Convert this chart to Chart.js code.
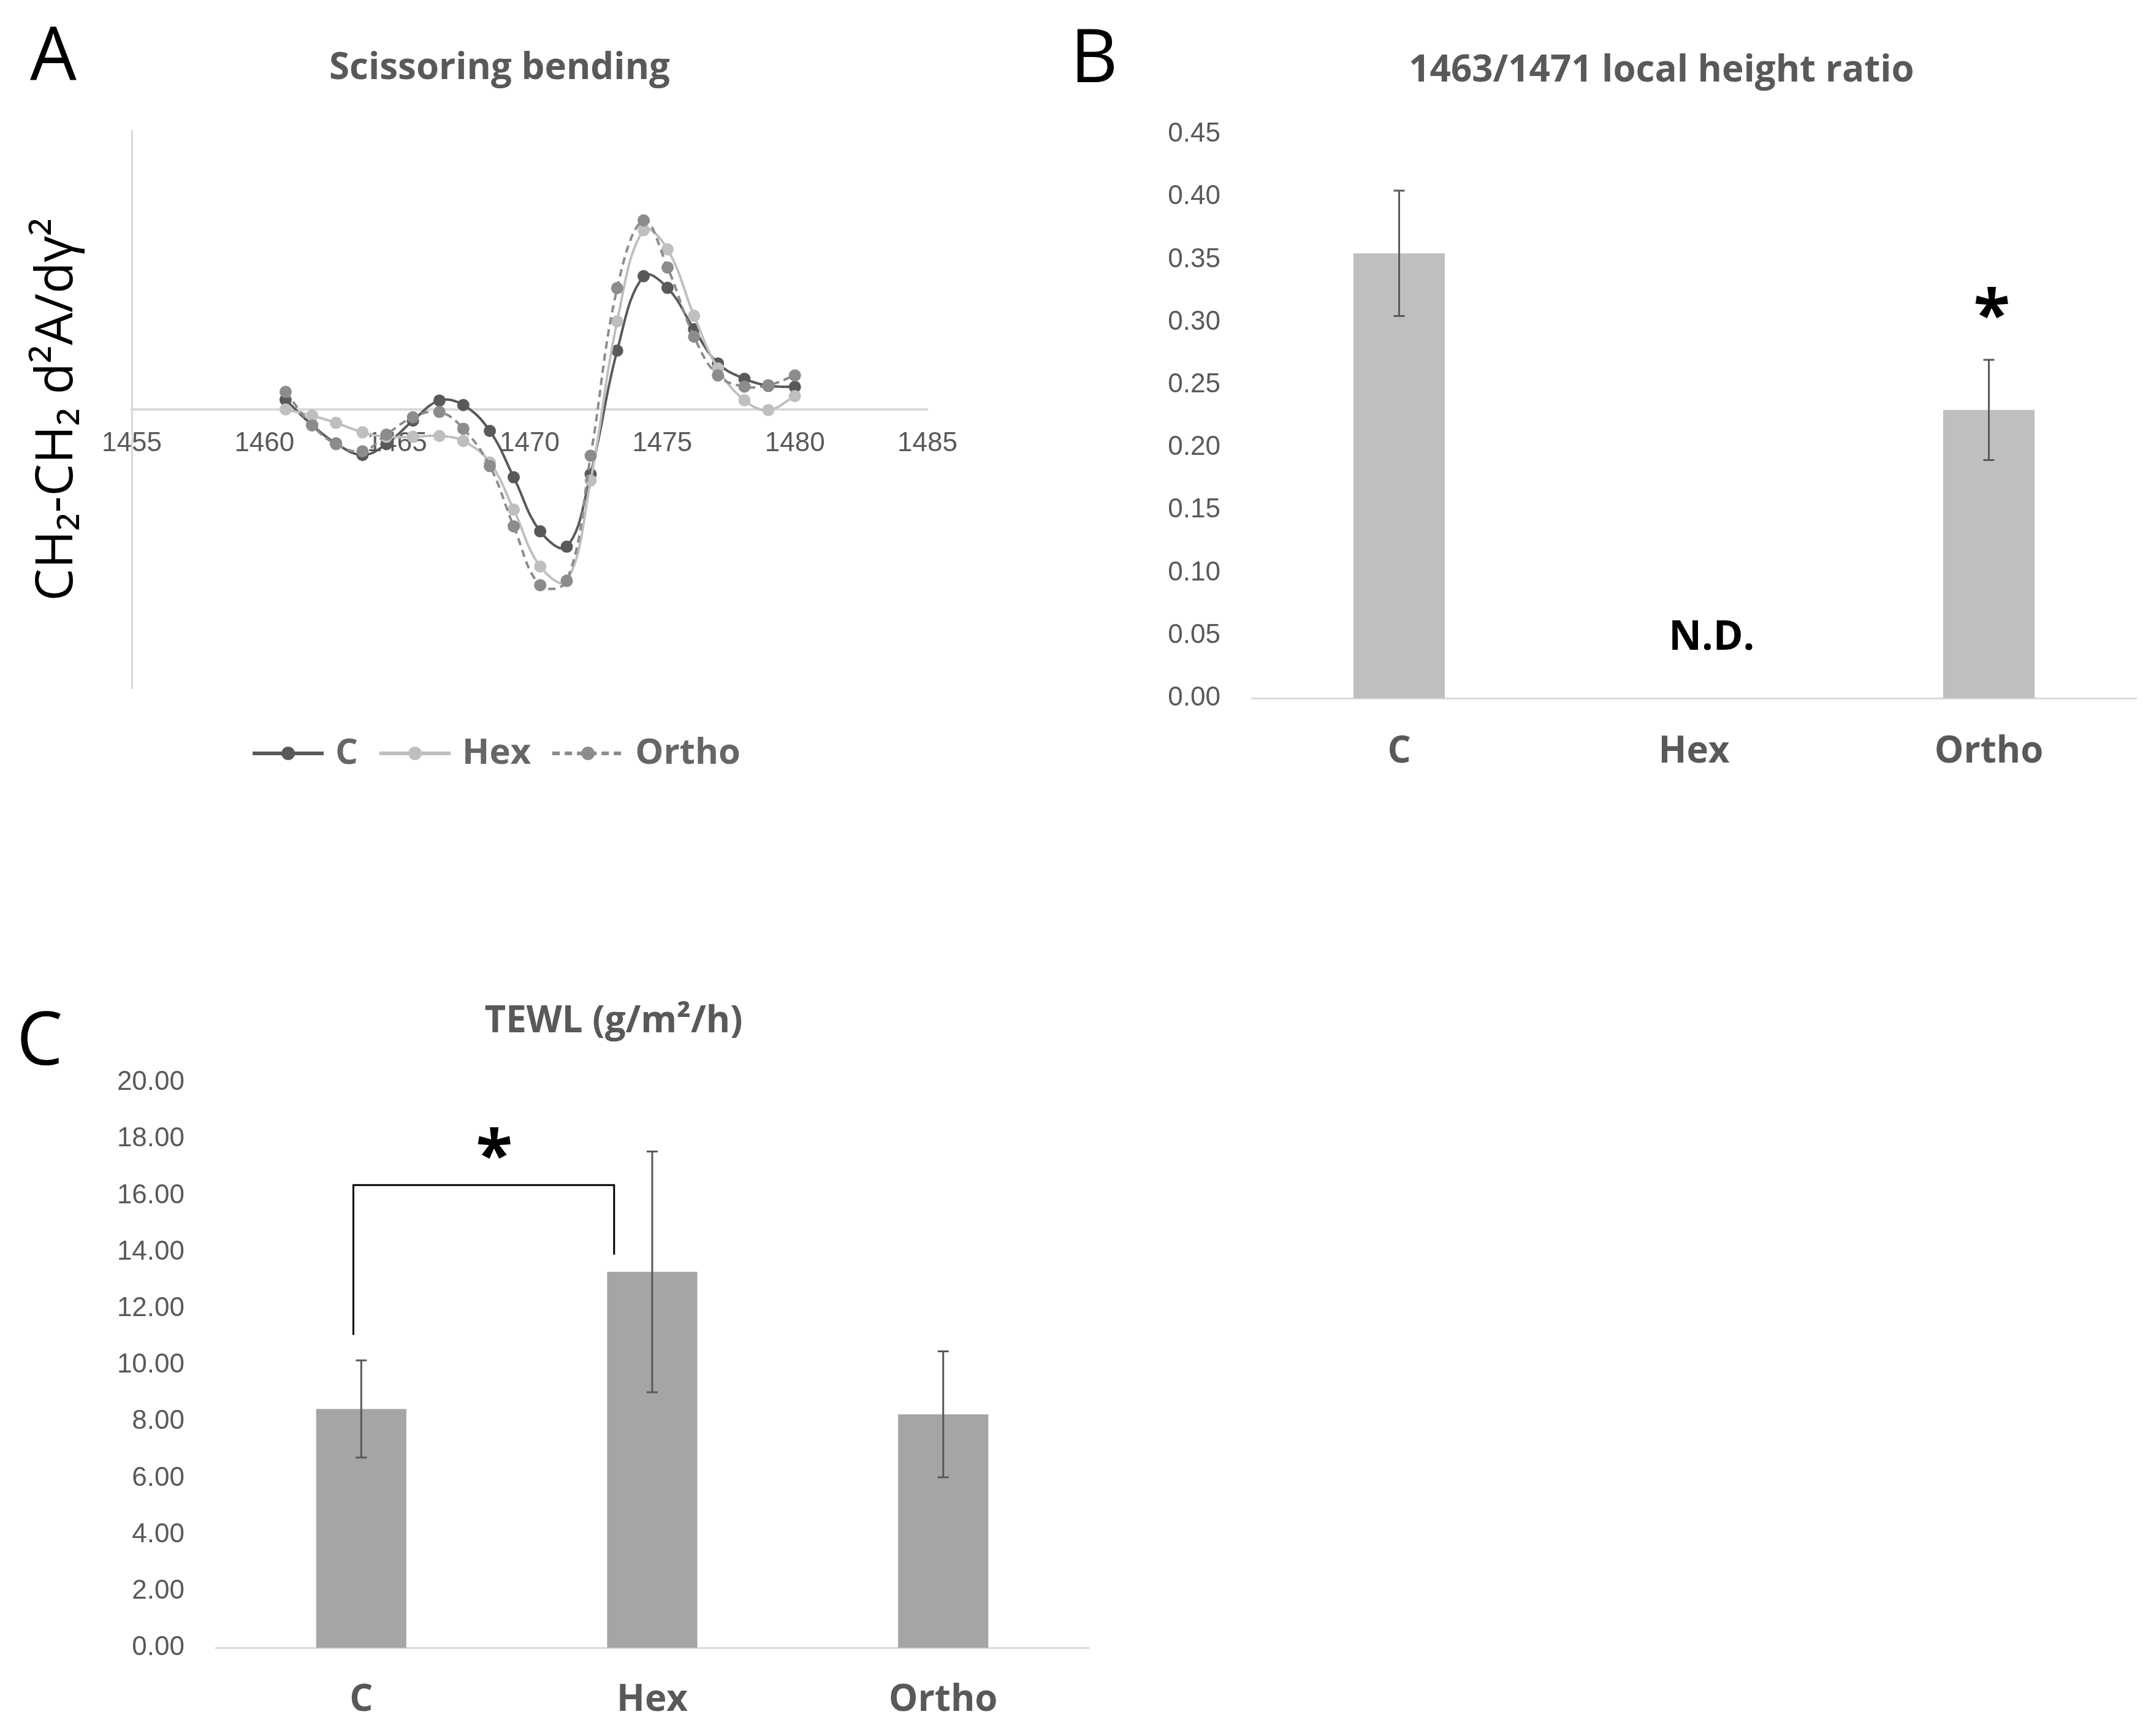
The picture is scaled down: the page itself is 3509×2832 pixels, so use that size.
<!DOCTYPE html>
<html>
<head>
<meta charset="utf-8">
<title>Scissoring bending / local height ratio / TEWL</title>
<script src="https://cdn.jsdelivr.net/npm/chart.js@4.4.1/dist/chart.umd.min.js"></script>
<style>
  html, body { margin: 0; padding: 0; background: #fff; }
  body { width: 3509px; height: 2832px; position: relative; overflow: hidden; font-family: 'Open Sans', sans-serif; }
  canvas { position: absolute; }
  .letter { position: absolute; font-size: 120px; line-height: 1; color: #000; }
</style>
</head>
<body>
<div class="letter" style="left:49px;top:24px">A</div>
<div class="letter" style="left:1746px;top:28px">B</div>
<div class="letter" style="left:27px;top:1631px">C</div>

<canvas id="chartA" width="1700" height="1400" style="left:0;top:0"></canvas>
<canvas id="chartB" width="1809" height="1400" style="left:1700px;top:0"></canvas>
<canvas id="chartC" width="1850" height="1332" style="left:0;top:1500px"></canvas>

<script>
'use strict';

// ---- panel A : second derivative spectra (relative units, axis -100..100)
const wavenumbers = [1460.8, 1461.8, 1462.7, 1463.7, 1464.6, 1465.6, 1466.6, 1467.5, 1468.5, 1469.4,
  1470.4, 1471.4, 1472.3, 1473.3, 1474.3, 1475.2, 1476.2, 1477.1, 1478.1, 1479.0, 1480.0];
const seriesC = [3.5, -5.6, -12.2, -16.3, -12.4, -4.0, 3.2, 1.6, -7.7, -24.3,
  -43.7, -49.2, -23.2, 21.1, 47.8, 43.6, 28.8, 16.5, 11.0, 8.5, 8.1];
const seriesHex = [0, -2.2, -4.8, -8.2, -9.8, -9.8, -9.5, -11.3, -19.0, -35.9,
  -56.3, -61.6, -25.5, 31.6, 64.3, 57.4, 33.6, 14.7, 3.3, -0.2, 4.8];
const seriesOrtho = [6.3, -5.7, -12.4, -15.0, -9.0, -2.8, -0.9, -6.9, -20.3, -41.9,
  -63.0, -61.4, -16.6, 43.5, 67.8, 50.9, 26.1, 12.2, 8.2, 8.7, 12.2];

// ---- panel B : 1463/1471 local height ratio
const groups = ['C', 'Hex', 'Ortho'];
const ratioMean = [0.355, null, 0.23];
const ratioErr = [0.05, null, 0.04];
const ratioMarks = [
  { text: 'N.D.', at: 1.06, value: 0.048, size: 66 },
  { text: '*', at: 2.01, value: 0.303, size: 110 }
];

// ---- panel C : TEWL
const tewlMean = [8.45, 13.3, 8.26];
const tewlErr = [1.72, 4.26, 2.23];
const tewlBracketX = [-0.027, 0.869];
const tewlBracketY = [11.07, 16.37, 13.91];
const tewlMarks = [{ text: '*', at: 0.457, value: 17.3, size: 110 }];

const GREY_TEXT = '#595959';
const AXIS_LINE = '#d9d9d9';
const TICK_FONT = "'Liberation Sans Narrow', 'Liberation Sans', sans-serif";
const MAIN_FONT = "'Open Sans', sans-serif";

Chart.defaults.font.family = MAIN_FONT;

function toXY(values) {
  return values.map((v, i) => ({ x: wavenumbers[i], y: v }));
}

/**
 * Small legend symbol: a line with a dot in the middle (Excel style).
 */
function legendSymbol(color, dash) {
  const c = document.createElement('canvas');
  c.width = 116;
  c.height = 24;
  const g = c.getContext('2d');
  g.strokeStyle = color;
  g.lineWidth = 6;
  g.setLineDash(dash);
  g.beginPath();
  g.moveTo(0, 12);
  g.lineTo(116, 12);
  g.stroke();
  g.fillStyle = color;
  g.beginPath();
  g.arc(58, 12, 11, 0, Math.PI * 2);
  g.fill();
  return c;
}

function errorBarPlugin(errors) {
  return {
    id: 'errorBars',
    afterDatasetsDraw(chart) {
      const ctx = chart.ctx;
      const y = chart.scales.y;
      const meta = chart.getDatasetMeta(0);
      const values = chart.data.datasets[0].data;
      ctx.save();
      ctx.strokeStyle = GREY_TEXT;
      ctx.lineWidth = 3;
      errors.forEach((e, i) => {
        if (e == null || values[i] == null) return;
        const x = meta.data[i].x;
        const top = y.getPixelForValue(values[i] + e);
        const bot = y.getPixelForValue(values[i] - e);
        ctx.beginPath();
        ctx.moveTo(x, top); ctx.lineTo(x, bot);
        ctx.moveTo(x - 9, top); ctx.lineTo(x + 9, top);
        ctx.moveTo(x - 9, bot); ctx.lineTo(x + 9, bot);
        ctx.stroke();
      });
      ctx.restore();
    }
  };
}

function marksPlugin(marks) {
  return {
    id: 'marks',
    afterDatasetsDraw(chart) {
      const ctx = chart.ctx;
      ctx.save();
      ctx.fillStyle = '#000';
      ctx.textAlign = 'center';
      ctx.textBaseline = 'middle';
      marks.forEach(m => {
        ctx.font = 'bold ' + m.size + 'px ' + MAIN_FONT;
        ctx.fillText(m.text, chart.scales.x.getPixelForValue(m.at), chart.scales.y.getPixelForValue(m.value));
      });
      ctx.restore();
    }
  };
}

// nudges the chart title sideways so it sits where the original one does
function titleShift(dx) {
  return {
    id: 'titleShift',
    afterLayout(chart) {
      if (!chart.titleBlock) return;
      chart.titleBlock.left += dx;
      chart.titleBlock.right += dx;
    }
  };
}

const bracketPlugin = {
  id: 'bracket',
  afterDatasetsDraw(chart) {
    const {ctx, scales: {x, y}} = chart;
    const x0 = x.getPixelForValue(tewlBracketX[0]);
    const x1 = x.getPixelForValue(tewlBracketX[1]);
    ctx.save();
    ctx.strokeStyle = '#000';
    ctx.lineWidth = 3;
    ctx.beginPath();
    ctx.moveTo(x0, y.getPixelForValue(tewlBracketY[0]));
    ctx.lineTo(x0, y.getPixelForValue(tewlBracketY[1]));
    ctx.lineTo(x1, y.getPixelForValue(tewlBracketY[1]));
    ctx.lineTo(x1, y.getPixelForValue(tewlBracketY[2]));
    ctx.stroke();
    ctx.restore();
  }
};

function chartTitle(text, top, bottom) {
  return {
    display: true,
    text: text,
    color: GREY_TEXT,
    font: { family: MAIN_FONT, size: 60, weight: 'bold' },
    padding: { top: top, bottom: bottom }
  };
}

// ---------------- panel A
const lineColors = { C: '#595959', Hex: '#bfbfbf', Ortho: '#8c8c8c' };

new Chart(document.getElementById('chartA'), {
  type: 'line',
  data: {
    datasets: [
      { label: 'C', data: toXY(seriesC), borderColor: lineColors.C, backgroundColor: lineColors.C, order: 2 },
      { label: 'Hex', data: toXY(seriesHex), borderColor: lineColors.Hex, backgroundColor: lineColors.Hex, order: 1 },
      { label: 'Ortho', data: toXY(seriesOrtho), borderColor: lineColors.Ortho, backgroundColor: lineColors.Ortho,
        borderDash: [12, 8], order: 0 }
    ]
  },
  options: {
    responsive: false,
    devicePixelRatio: 1,
    animation: false,
    events: [],
    layout: { padding: { left: 117, right: 187, top: 0, bottom: 132 } },
    elements: {
      line: { tension: 0.4, borderWidth: 4 },
      point: { radius: 10, borderWidth: 0 }
    },
    scales: {
      x: {
        type: 'linear',
        position: { y: 0 },
        min: 1455,
        max: 1485,
        ticks: {
          stepSize: 5,
          color: GREY_TEXT,
          padding: 21,
          font: { family: TICK_FONT, size: 44 },
          callback: v => String(v)
        },
        grid: { display: false },
        border: { color: AXIS_LINE, width: 4 }
      },
      y: {
        min: -100,
        max: 100,
        afterFit(scale) { scale.width = 98; },
        ticks: { display: false },
        grid: { display: false, drawTicks: false },
        border: { color: AXIS_LINE, width: 3 },
        title: {
          display: true,
          text: 'CH₂-CH₂ d²A/dγ²',
          color: '#000',
          font: { family: MAIN_FONT, size: 84 },
          padding: { top: -73, bottom: 0 }
        }
      }
    },
    plugins: {
      title: chartTitle('Scissoring bending', 76, 65),
      tooltip: { enabled: false },
      legend: {
        position: 'bottom',
        title: { display: true, text: '', font: { size: 10 }, padding: { top: 20, bottom: 0 } },
        labels: {
          usePointStyle: true,
          pointStyleWidth: 96,
          padding: 45,
          color: GREY_TEXT,
          font: { family: MAIN_FONT, size: 58, weight: 'bold' },
          generateLabels(chart) {
            return chart.data.datasets.map((ds, i) => ({
              text: ds.label,
              pointStyle: legendSymbol(ds.borderColor, ds.borderDash || []),
              fillStyle: ds.borderColor,
              strokeStyle: ds.borderColor,
              lineWidth: 0,
              hidden: false,
              datasetIndex: i
            }));
          }
        }
      }
    }
  }
});

// ---------------- shared bar options
function barOptions(opts) {
  return {
    responsive: false,
    devicePixelRatio: 1,
    animation: false,
    events: [],
    layout: { padding: opts.padding },
    scales: {
      x: {
        afterFit(scale) { scale.height = opts.xHeight; },
        ticks: { color: GREY_TEXT, padding: opts.labelPad, font: { family: MAIN_FONT, size: 60, weight: 'bold' } },
        grid: { display: false, drawTicks: false },
        border: { color: AXIS_LINE, width: 3 }
      },
      y: {
        min: 0,
        max: opts.max,
        afterFit(scale) { scale.width = opts.yWidth; },
        ticks: {
          stepSize: opts.step,
          color: GREY_TEXT,
          padding: 51,
          font: { family: TICK_FONT, size: 44 },
          callback: v => Number(v).toFixed(2)
        },
        grid: { display: false, drawTicks: false },
        border: { display: false }
      }
    },
    plugins: {
      title: opts.title,
      legend: { display: false },
      tooltip: { enabled: false }
    }
  };
}

// ---------------- panel B
new Chart(document.getElementById('chartB'), {
  type: 'bar',
  data: {
    labels: groups,
    datasets: [{
      data: ratioMean,
      backgroundColor: '#bfbfbf',
      barPercentage: 0.31,
      categoryPercentage: 1
    }]
  },
  options: barOptions({
    padding: { left: 200, right: 24, top: 0, bottom: 60 },
    xHeight: 201,
    yWidth: 142,
    labelPad: 52,
    max: 0.45,
    step: 0.05,
    title: chartTitle('1463/1471 local height ratio', 80, 67)
  }),
  plugins: [titleShift(18), errorBarPlugin(ratioErr), marksPlugin(ratioMarks)]
});

// ---------------- panel C
new Chart(document.getElementById('chartC'), {
  type: 'bar',
  data: {
    labels: groups,
    datasets: [{
      data: tewlMean,
      backgroundColor: '#a5a5a5',
      barPercentage: 0.31,
      categoryPercentage: 1
    }]
  },
  options: barOptions({
    padding: { left: 162, right: 74, top: 0, bottom: 0 },
    xHeight: 144,
    yWidth: 190,
    labelPad: 50,
    max: 20,
    step: 2,
    title: chartTitle('TEWL (g/m²/h)', 131, 63)
  }),
  plugins: [titleShift(32), errorBarPlugin(tewlErr), bracketPlugin, marksPlugin(tewlMarks)]
});
</script>
</body>
</html>
